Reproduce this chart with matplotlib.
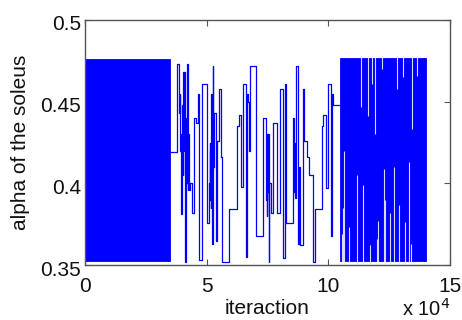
import matplotlib
matplotlib.use("Agg")
import matplotlib.pyplot as plt
from matplotlib.transforms import ScaledTranslation

# ---- data (x in units of 10^4 iterations) ----
# dense burn-in / mixing blocks: (start, end, low, high)
dense_start = [0.0, 10.48]
dense_end = [3.49, 14.01]
dense_low = [0.3525, 0.3525]
dense_high = [0.476, 0.4765]

# slow-mixing middle section (step changes)
mid_x = [3.49, 3.77, 3.88, 3.90, 3.92, 3.95, 3.96, 3.975, 3.985, 4.00, 4.02, 4.04,
         4.06, 4.07, 4.10, 4.12, 4.15, 4.17, 4.19, 4.21, 4.23, 4.25, 4.27, 4.32,
         4.38, 4.49, 4.56, 4.63, 4.70, 4.80, 5.00, 5.11, 5.125, 5.14, 5.15, 5.16,
         5.17, 5.19, 5.21, 5.23, 5.25, 5.27, 5.32, 5.37, 5.41, 5.44, 5.52, 5.59,
         5.63, 5.93, 6.23, 6.34, 6.41, 6.48, 6.62, 6.66, 6.70, 6.74, 6.78, 7.01,
         7.33, 7.44, 7.46, 7.47, 7.49, 7.51, 7.53, 7.55, 7.58, 7.64, 7.74, 7.88,
         8.01, 8.12, 8.20, 8.27, 8.54, 8.59, 8.61, 8.62, 8.64, 8.65, 8.67, 8.77,
         8.80, 8.84, 8.95, 9.00, 9.11, 9.22, 9.38, 9.45, 9.73, 9.80, 9.91, 10.00,
         10.10, 10.14, 10.18, 10.28, 10.48]
mid_v = [0.419, 0.473, 0.443, 0.455, 0.420, 0.430, 0.381, 0.445, 0.390, 0.448, 0.405, 0.468,
         0.420, 0.468, 0.440, 0.352, 0.440, 0.400, 0.460, 0.473, 0.396, 0.430, 0.396, 0.400,
         0.382, 0.440, 0.437, 0.455, 0.353, 0.461, 0.376, 0.400, 0.425, 0.390, 0.420, 0.385,
         0.410, 0.455, 0.400, 0.363, 0.472, 0.410, 0.443, 0.365, 0.423, 0.426, 0.458, 0.416,
         0.352, 0.384, 0.435, 0.442, 0.398, 0.461, 0.355, 0.455, 0.450, 0.420, 0.472, 0.368,
         0.440, 0.390, 0.430, 0.380, 0.430, 0.395, 0.430, 0.352, 0.400, 0.382, 0.437, 0.382,
         0.458, 0.354, 0.461, 0.376, 0.440, 0.395, 0.425, 0.391, 0.420, 0.391, 0.472, 0.363,
         0.410, 0.362, 0.458, 0.426, 0.416, 0.405, 0.352, 0.384, 0.435, 0.442, 0.397, 0.461,
         0.368, 0.455, 0.448, 0.448, 0.448]

# places inside the second dense block where the trace did not reach the top / bottom
top_gap_x = [11.33, 11.64, 11.81, 11.93, 12.19, 12.81, 13.08, 13.45, 13.63]
top_gap_y = [0.447, 0.441, 0.461, 0.430, 0.470, 0.458, 0.465, 0.433, 0.466]
bot_gap_x = [10.55, 10.62, 10.66, 10.86, 11.19, 11.41, 11.71, 11.99, 12.03, 12.29,
             12.33, 12.53, 12.70, 12.90, 13.15, 13.32, 13.40]
bot_gap_y = [0.369, 0.385, 0.420, 0.373, 0.405, 0.399, 0.362, 0.366, 0.377, 0.409,
             0.390, 0.382, 0.410, 0.387, 0.3765, 0.413, 0.363]

x_ticks = [0, 5, 10, 15]
y_ticks = [0.35, 0.4, 0.45, 0.5]
y_tick_labels = ["0.35", "0.4", "0.45", "0.5"]

# ---- plot ----
plt.rcParams['font.family'] = ['Liberation Sans', 'DejaVu Sans']
fig = plt.figure(figsize=(4.62, 3.20), dpi=100)
ax = fig.add_axes([85 / 462, 1 - 265 / 320, 365 / 462, 245 / 320])

blue = '#0000ff'
for xs, xe, lo, hi in zip(dense_start, dense_end, dense_low, dense_high):
    ax.fill_between([xs, xe], [lo, lo], [hi, hi], color=blue, lw=0.6, zorder=2)

ax.plot(mid_x, mid_v, drawstyle='steps-post', color=blue, lw=0.9, zorder=2)

top_dense = dense_high[1]
bot_dense = dense_low[1]
ax.vlines(top_gap_x, top_gap_y, [top_dense + 0.001] * len(top_gap_x),
          colors='white', lw=0.8, alpha=0.85, zorder=3)
ax.vlines(bot_gap_x, [bot_dense - 0.001] * len(bot_gap_x), bot_gap_y,
          colors='white', lw=0.8, alpha=0.85, zorder=3)

ax.set_xlim(0, 15)
ax.set_ylim(0.35, 0.5)
ax.set_xticks(x_ticks)
ax.set_xticklabels([str(t) for t in x_ticks])
ax.set_yticks(y_ticks)
ax.set_yticklabels(y_tick_labels)

for s in ax.spines.values():
    s.set_color('#555555')
    s.set_linewidth(1.0)
ax.tick_params(direction='in', length=4, width=0.8, color='#555555',
               top=True, right=True, labelsize=15, labelcolor='#111111')
ax.tick_params(axis='x', pad=9)
ax.tick_params(axis='y', pad=3)

# y tick labels sit slightly below their ticks in the reference
offset = ScaledTranslation(0, -3 / 100, fig.dpi_scale_trans)
for lbl in ax.get_yticklabels():
    lbl.set_transform(lbl.get_transform() + offset)

ax.set_xlabel('iteraction', fontsize=15, color='#111111', labelpad=2)
ax.set_ylabel('alpha of the soleus', fontsize=15, color='#111111', labelpad=7)
fig.text(450 / 462, 1 - 316 / 320, r'x 10$^{4}$', ha='right', va='baseline',
         fontsize=14.5, color='#111111')

fig.savefig('out.png', dpi=100)
